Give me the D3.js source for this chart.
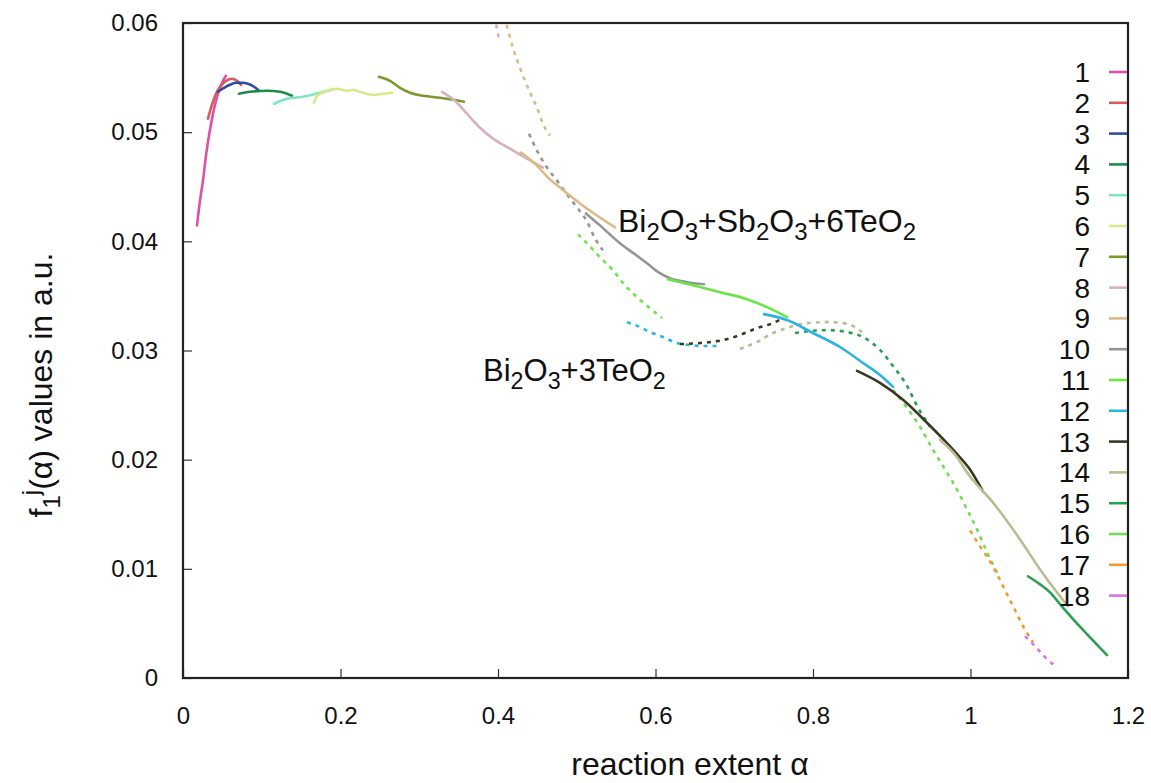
<!DOCTYPE html>
<html>
<head>
<meta charset="utf-8">
<script src="https://cdn.jsdelivr.net/npm/d3@7"></script>
<style>
  html, body { margin: 0; padding: 0; background: #fff; }
  svg { display: block; font-family: "Liberation Sans", Arial, Helvetica, sans-serif; }
</style>
</head>
<body>
<svg id="chart" width="1151" height="783"></svg>
<script>
// ---------------- data ----------------
const xTicks = [0, 0.2, 0.4, 0.6, 0.8, 1, 1.2];
const xTickLabels = ["0", "0.2", "0.4", "0.6", "0.8", "1", "1.2"];
const yTicks = [0, 0.01, 0.02, 0.03, 0.04, 0.05, 0.06];
const yTickLabels = ["0", "0.01", "0.02", "0.03", "0.04", "0.05", "0.06"];

const seriesNames = ["1","2","3","4","5","6","7","8","9","10","11","12","13","14","15","16","17","18"];

// Bi2O3+Sb2O3+6TeO2 (solid) : [alpha, f]
const s1  = [[.0178,.04146],[.0216,.04374],[.0254,.04557],[.0292,.04785],[.0330,.04968],[.0381,.05169],[.0444,.05352],[.0508,.05470],[.0546,.05516]];
const s2  = [[.0317,.05123],[.0368,.05251],[.0419,.05352],[.0470,.05416],[.0546,.05470],[.0622,.05489],[.0686,.05470],[.0737,.05434]];
const s3  = [[.0444,.05370],[.0521,.05406],[.0597,.05434],[.0673,.05452],[.0749,.05452],[.0825,.05443],[.0902,.05416],[.0965,.05379]];
const s4  = [[.0711,.05352],[.0851,.05370],[.1067,.05379],[.1232,.05370],[.1384,.05333]];
const s5  = [[.1156,.05260],[.1321,.05306],[.1524,.05324],[.1740,.05361],[.1892,.05388]];
const s6  = [[.1663,.05269],[.1702,.05333],[.1829,.05379],[.1956,.05397],[.2083,.05379],[.2159,.05388],[.2286,.05361],[.2413,.05342],[.2540,.05352],[.2654,.05361]];
const s7  = [[.2489,.05507],[.2629,.05470],[.2756,.05406],[.2883,.05361],[.3048,.05333],[.3263,.05315],[.3429,.05297],[.3568,.05279]];
const s8  = [[.3289,.05370],[.3454,.05288],[.3606,.05169],[.3771,.05041],[.3937,.04941],[.4152,.04849],[.4368,.04758],[.4571,.04676]];
const s9  = [[.4292,.04813],[.4495,.04694],[.4635,.04584],[.4787,.04493],[.5041,.04347],[.5257,.04237],[.5486,.04128]];
const s10 = [[.5117,.04256],[.5295,.04146],[.5549,.03982],[.5740,.03881],[.5892,.03799],[.6057,.03708],[.6184,.03662],[.6400,.03626],[.6616,.03607]];
const s11 = [[.6159,.03653],[.6476,.03598],[.6819,.03534],[.7162,.03470],[.7416,.03397],[.7670,.03306]];
const s12 = [[.7378,.03333],[.7670,.03279],[.8000,.03160],[.8343,.03032],[.8635,.02886],[.8851,.02776],[.9016,.02667]];
const s13 = [[.8559,.02813],[.8851,.02703],[.9143,.02548],[.9448,.02338],[.9778,.02091],[.9994,.01909],[1.0159,.01708]];
const s14 = [[.9613,.02183],[.9803,.02046],[.9994,.01845],[1.0286,.01607],[1.0629,.01269],[1.0883,.00995],[1.1137,.00749],[1.1238,.00658]];
const s15 = [[1.0730,.00932],[1.0883,.00858],[1.1010,.00785],[1.1137,.00676],[1.1302,.00539],[1.1479,.00402],[1.1733,.00210]];

// Bi2O3+3TeO2 (dotted) : [alpha, f]
const d8  = [[.3950,.0615],[.3975,.0600],[.4013,.05854]];
const d9  = [[.4076,.0606],[.4102,.0600],[.4190,.05772],[.4279,.05589],[.4381,.05406],[.4495,.05224],[.4571,.05078],[.4660,.04968]];
const d10 = [[.4394,.04986],[.4495,.04831],[.4622,.04676],[.4749,.04557],[.4876,.04429],[.5003,.04311],[.5130,.04183],[.5232,.04027],[.5333,.03918]];
const d11 = [[.5016,.04064],[.5130,.03982],[.5295,.03854],[.5460,.03735],[.5600,.03607],[.5765,.03489],[.5930,.03388],[.6083,.03297]];
const d12 = [[.5638,.03260],[.5803,.03215],[.5930,.03169],[.6095,.03123],[.6273,.03068],[.6438,.03050],[.6629,.03041],[.6819,.03041]];
const d13 = [[.6311,.03059],[.6565,.03068],[.6857,.03096],[.7073,.03142],[.7289,.03205],[.7492,.03251],[.7619,.03297]];
const d14 = [[.7073,.03014],[.7289,.03078],[.7492,.03160],[.7708,.03215],[.7924,.03251],[.8178,.03260],[.8381,.03251],[.8508,.03224],[.8622,.03169]];
const d15 = [[.7771,.03160],[.7962,.03178],[.8178,.03187],[.8432,.03169],[.8635,.03123],[.8851,.03005],[.9016,.02858],[.9194,.02676],[.9321,.02493],[.9486,.02301]];
const d16 = [[.9016,.02639],[.9194,.02475],[.9359,.02301],[.9524,.02091],[.9702,.01881],[.9829,.01726],[.9956,.01543],[1.0083,.01361],[1.0210,.01151],[1.0349,.00950]];
const d17 = [[.9994,.01352],[1.0121,.01205],[1.0286,.01023],[1.0413,.00840],[1.0540,.00658],[1.0667,.00475],[1.0794,.00329]];
const d18 = [[1.0692,.00384],[1.0819,.00292],[1.0971,.00174],[1.1098,.00100]];

// ---------------- styles ----------------
const seriesColors = ["#e04fa8","#d85a5a","#2f4ca4","#1f8a4c","#80e6c0","#d6ea8a","#7a9a2c","#d8b0c4","#d8bc88",
                      "#969690","#6ae648","#2ab4e0","#3a3820","#bcbc94","#28a050","#74dc5c","#f09c30","#d478e0"];

const solidSeries = [s1,s2,s3,s4,s5,s6,s7,s8,s9,s10,s11,s12,s13,s14,s15];
const dottedSeries = [[8,d8],[9,d9],[10,d10],[11,d11],[12,d12],[13,d13],[14,d14],[15,d15],[16,d16],[17,d17],[18,d18]];

// ---------------- layout ----------------
const W = 1151, H = 783;
const L = 183, R = 1128, T = 23, B = 678;
const FONT = '"Liberation Sans", Arial, Helvetica, sans-serif';

const svg = d3.select("#chart");
svg.append("rect").attr("width", W).attr("height", H).attr("fill", "#fff");

const x = d3.scaleLinear().domain([0, 1.2]).range([L, R]);
const y = d3.scaleLinear().domain([0, 0.06]).range([B, T]);

svg.append("defs").append("clipPath").attr("id", "plotclip")
  .append("rect").attr("x", L).attr("y", T).attr("width", R - L).attr("height", B - T);

// axes
const xAxis = d3.axisBottom(x).tickValues(xTicks)
  .tickFormat((d, i) => xTickLabels[i]).tickSizeInner(-9).tickSizeOuter(0).tickPadding(29);
const gx = svg.append("g").attr("transform", `translate(0,${B})`).call(xAxis);
gx.select(".domain").remove();
gx.selectAll("line").attr("stroke", "#333").attr("stroke-width", 1.2);
gx.selectAll("text").attr("font-family", FONT).attr("font-size", 24).attr("fill", "#111");

const yAxis = d3.axisLeft(y).tickValues(yTicks)
  .tickFormat((d, i) => yTickLabels[i]).tickSizeInner(-9).tickSizeOuter(0).tickPadding(25);
const gy = svg.append("g").attr("transform", `translate(${L},0)`).call(yAxis);
gy.select(".domain").remove();
gy.selectAll("line").attr("stroke", "#333").attr("stroke-width", 1.2);
gy.selectAll("text").attr("font-family", FONT).attr("font-size", 24).attr("fill", "#111");

// curves
const line = d3.line().x(d => x(d[0])).y(d => y(d[1])).curve(d3.curveMonotoneX);
const plot = svg.append("g").attr("clip-path", "url(#plotclip)");

plot.selectAll("path.dot").data(dottedSeries).enter().append("path")
  .attr("class", "dot")
  .attr("d", d => line(d[1]))
  .attr("fill", "none")
  .attr("stroke", d => seriesColors[d[0] - 1])
  .attr("stroke-width", 2.6)
  .attr("stroke-dasharray", "4,5");

plot.selectAll("path.solid").data(solidSeries).enter().append("path")
  .attr("class", "solid")
  .attr("d", d => line(d))
  .attr("fill", "none")
  .attr("stroke", (d, i) => seriesColors[i])
  .attr("stroke-width", 2.6)
  .attr("stroke-linecap", "round");

// frame
svg.append("rect").attr("x", L).attr("y", T).attr("width", R - L).attr("height", B - T)
  .attr("fill", "none").attr("stroke", "#222").attr("stroke-width", 2.2);

// legend
const legY0 = 72, legDY = 30.8;
const leg = svg.append("g");
seriesNames.forEach((n, i) => {
  const yy = legY0 + i * legDY;
  leg.append("text").attr("x", 1090).attr("y", yy).attr("dy", "0.36em")
    .attr("text-anchor", "end").attr("font-family", FONT).attr("font-size", 28).attr("fill", "#111").text(n);
  leg.append("line").attr("x1", 1109).attr("x2", 1127).attr("y1", yy).attr("y2", yy)
    .attr("stroke", seriesColors[i]).attr("stroke-width", 2.6);
});

// rich text helper (subscripts/superscripts)
function richText(g, xx, yy, parts, size, opts = {}) {
  const t = g.append("text").attr("x", xx).attr("y", yy)
    .attr("font-family", FONT).attr("font-size", size).attr("fill", "#111");
  if (opts.anchor) t.attr("text-anchor", opts.anchor);
  if (opts.transform) t.attr("transform", opts.transform);
  let cur = 0;
  parts.forEach(p => {
    let target = 0, fs = size;
    if (p.sub) { target = size * 0.25; fs = size * 0.75; }
    if (p.sup) { target = -size * 0.42; fs = size * 0.75; }
    t.append("tspan").attr("dy", target - cur).attr("font-size", fs).text(p.t);
    cur = target;
  });
  return t;
}

// annotations
richText(svg, 618, 232, [
  {t:"Bi"},{t:"2",sub:1},{t:"O"},{t:"3",sub:1},{t:"+Sb"},{t:"2",sub:1},{t:"O"},{t:"3",sub:1},{t:"+6TeO"},{t:"2",sub:1}
], 32);
richText(svg, 483, 381, [
  {t:"Bi"},{t:"2",sub:1},{t:"O"},{t:"3",sub:1},{t:"+3TeO"},{t:"2",sub:1}
], 31);

// axis titles
svg.append("text").attr("x", 690).attr("y", 775).attr("text-anchor", "middle")
  .attr("font-family", FONT).attr("font-size", 32).attr("fill", "#111").text("reaction extent α");

richText(svg, 0, 0, [
  {t:"f"},{t:"1",sub:1},{t:"j",sup:1},{t:"(α) values in a.u."}
], 32, {anchor: "middle", transform: "translate(52,385) rotate(-90)"});
</script>
</body>
</html>
